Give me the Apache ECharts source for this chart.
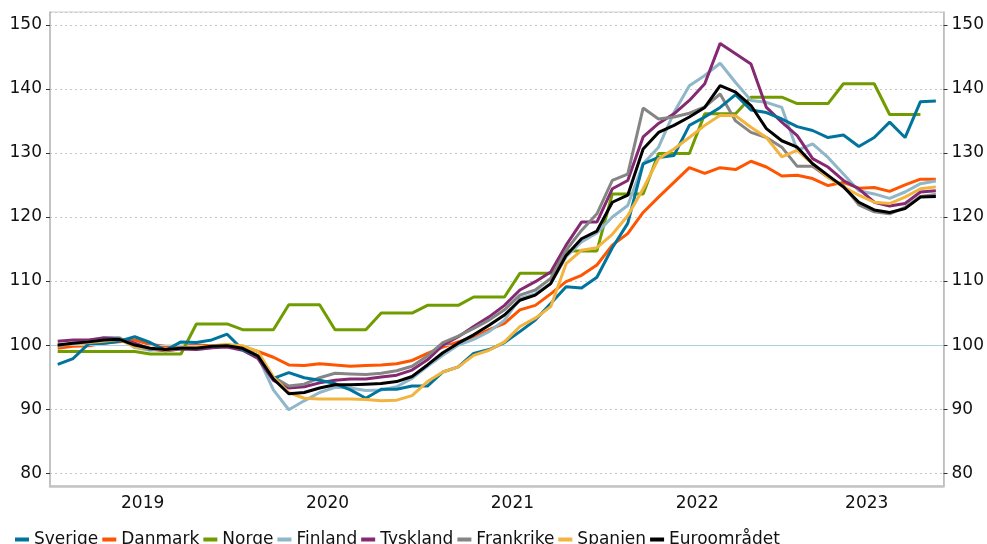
<!DOCTYPE html>
<html>
<head>
<meta charset="utf-8">
<script src="https://cdn.jsdelivr.net/npm/echarts@6/dist/echarts.min.js"></script>
<style>
  html, body { margin: 0; padding: 0; background: #fff; }
  #chart { width: 987px; height: 544px; }
</style>
</head>
<body>
<div id="chart"></div>
<script>
// månader jan 2019 - okt 2023
var years = [2019, 2020, 2021, 2022, 2023];
var months = [];
years.forEach(function (y) {
  for (var m = 1; m <= 12; m++) {
    if (y === 2023 && m > 10) break;
    months.push(y + '-' + (m < 10 ? '0' + m : m));
  }
});
// index där årsetiketten hamnar (mitt i året)
var yearLabelIdx = [6, 18, 30, 42, 53];

var sverige = [97.0, 97.9, 100.2, 100.3, 100.6, 101.3, 100.4, 99.2, 100.5, 100.4, 100.8, 101.7,
  99.3, 98.3, 94.8, 95.7, 94.9, 94.5, 94.0, 93.0, 91.7, 93.1, 93.1, 93.6,
  93.6, 95.8, 96.6, 98.7, 99.3, 100.4, 102.1, 103.9, 106.5, 109.1, 108.9, 110.6,
  115.2, 119.0, 128.3, 129.3, 129.6, 134.3, 135.6, 137.1, 139.1, 136.7, 136.3, 135.3,
  134.1, 133.5, 132.4, 132.8, 131.0, 132.4, 134.8, 132.4, 138.0, 138.1];
var danmark = [99.5, 99.8, 99.9, 100.3, 100.5, 100.8, 100.1, 99.8, 99.8, 100.0, 99.9, 100.0,
  99.7, 99.0, 98.1, 96.9, 96.8, 97.1, 96.9, 96.7, 96.8, 96.9, 97.1, 97.6,
  98.7, 99.7, 100.5, 101.3, 102.4, 103.4, 105.5, 106.2, 108.0, 109.9, 110.9, 112.5,
  115.6, 117.4, 120.7, 123.1, 125.4, 127.7, 126.8, 127.7, 127.4, 128.7, 127.8, 126.4,
  126.5, 126.0, 124.9, 125.4, 124.5, 124.6, 124.0, 125.0, 125.9, 125.9];
var norge = [99.0, 99.0, 99.0, 99.0, 99.0, 99.0, 98.6, 98.6, 98.6, 103.3, 103.3, 103.3,
  102.4, 102.4, 102.4, 106.3, 106.3, 106.3, 102.4, 102.4, 102.4, 105.0, 105.0, 105.0,
  106.2, 106.2, 106.2, 107.5, 107.5, 107.5, 111.2, 111.2, 111.2, 114.7, 114.7, 114.7,
  123.6, 123.6, 123.6, 129.9, 129.9, 129.9, 136.1, 136.1, 136.1, 138.7, 138.7, 138.7,
  137.7, 137.7, 137.7, 140.8, 140.8, 140.8, 136.0, 136.0, 136.0, null];
var finland = [99.8, 100.3, 100.7, 101.2, 101.2, 99.6, 99.2, 99.4, 99.6, 99.3, 99.6, 100.0,
  99.5, 98.2, 93.0, 89.9, 91.3, 92.6, 93.4, 93.3, 92.9, 93.0, 93.5, 94.8,
  96.7, 98.4, 100.0, 100.9, 102.1, 103.9, 107.3, 108.0, 109.6, 113.8, 116.1, 117.5,
  120.0, 121.8, 128.3, 130.9, 136.3, 140.5, 142.1, 144.0, 141.0, 138.2, 137.9, 137.1,
  130.4, 131.4, 129.3, 126.7, 124.1, 123.6, 122.9, 123.9, 125.2, 125.6];
var tyskland = [100.6, 100.8, 100.8, 101.1, 101.0, 100.3, 99.4, 99.1, 99.4, 99.3, 99.6, 99.7,
  99.2, 97.9, 94.5, 93.3, 93.5, 94.1, 94.5, 94.7, 94.7, 95.0, 95.3, 96.1,
  97.7, 100.0, 101.3, 102.9, 104.4, 106.2, 108.6, 109.9, 111.4, 115.6, 119.2, 119.2,
  124.4, 125.7, 132.5, 134.6, 136.1, 138.2, 140.8, 147.1, 145.5, 143.9, 137.1, 134.8,
  132.7, 129.1, 127.8, 125.7, 124.4, 122.3, 121.7, 122.1, 123.9, 124.1];
var frankrike = [99.9, 100.3, 100.5, 100.8, 101.0, 100.0, 99.3, 99.3, 99.6, 99.5, 99.8, 99.9,
  99.6, 98.3, 95.0, 93.6, 93.9, 94.9, 95.6, 95.5, 95.4, 95.6, 96.0, 96.7,
  98.3, 100.4, 101.4, 102.6, 103.9, 105.5, 107.8, 108.6, 110.4, 114.8, 117.9, 120.5,
  125.7, 126.7, 137.0, 135.3, 135.6, 136.2, 137.2, 139.2, 135.0, 133.2, 132.4, 130.9,
  127.9, 127.9, 126.2, 124.9, 121.9, 120.8, 120.5, 121.5, 123.2, 123.5];
var spanien = [100.0, 100.2, 100.4, 100.6, 100.9, 99.7, 99.5, 99.2, 99.5, 99.6, 99.9, 100.1,
  99.9, 99.0, 95.0, 92.6, 91.7, 91.6, 91.6, 91.6, 91.5, 91.3, 91.4, 92.1,
  94.3, 95.8, 96.6, 98.4, 99.2, 100.5, 102.9, 104.2, 106.0, 112.7, 114.8, 115.2,
  117.3, 120.2, 124.4, 129.1, 130.6, 132.4, 134.3, 135.9, 135.8, 134.0, 132.4, 129.4,
  130.4, 128.3, 126.2, 124.7, 123.4, 122.3, 122.1, 123.1, 124.4, 124.7];
var euro = [100.0, 100.3, 100.5, 100.8, 100.9, 100.0, 99.5, 99.3, 99.5, 99.5, 99.8, 99.9,
  99.5, 98.3, 94.7, 92.4, 92.6, 93.3, 93.8, 93.8, 93.9, 94.0, 94.3, 95.1,
  96.9, 98.8, 100.3, 101.6, 103.1, 104.7, 107.0, 107.8, 109.6, 114.0, 116.6, 117.8,
  122.3, 123.4, 130.6, 133.2, 134.3, 135.6, 137.1, 140.5, 139.5, 137.4, 133.8, 131.9,
  130.9, 128.3, 126.5, 124.7, 122.3, 121.1, 120.7, 121.3, 123.1, 123.2];

var names = ['Sverige', 'Danmark', 'Norge', 'Finland', 'Tyskland', 'Frankrike', 'Spanien', 'Euroområdet'];
var colors = ['#00749c', '#ff5500', '#709c00', '#8fb6c9', '#852a72', '#858585', '#f2b43e', '#000000'];
var values = [sverige, danmark, norge, finland, tyskland, frankrike, spanien, euro];

var font = 'DejaVu Sans, Verdana, sans-serif';

var series = names.map(function (n, i) {
  return {
    name: n,
    type: 'line',
    data: values[i],
    symbol: 'none',
    z: n === 'Sverige' ? 9 : 3 + i,
    lineStyle: { width: 3, color: colors[i] },
    itemStyle: { color: colors[i] }
  };
});
// 100-linjen
series.unshift({
  type: 'line',
  data: [],
  z: 1,
  silent: true,
  markLine: {
    silent: true,
    symbol: ['none', 'none'],
    label: { show: false },
    lineStyle: { color: '#a8d1e3', width: 1, type: 'solid' },
    data: [{ yAxis: 100 }]
  }
});

var chart = echarts.init(document.getElementById('chart'));
chart.setOption({
  animation: false,
  textStyle: { fontFamily: font },
  grid: {
    left: 50, right: 42, top: 12, bottom: 58,
    show: true, borderColor: '#cccccc', borderWidth: 1
  },
  legend: {
    data: names,
    left: 10,
    top: 526,
    itemGap: 4,
    itemWidth: 14,
    itemHeight: 4,
    icon: 'rect',
    textStyle: { fontSize: 17, color: '#111', fontFamily: font }
  },
  xAxis: {
    type: 'category',
    data: months,
    boundaryGap: true,
    axisLine: { lineStyle: { color: '#c4c4c4', width: 2.5 } },
    axisTick: {
      interval: function (i) { return i % 12 === 0; },
      length: 5,
      lineStyle: { color: '#333' }
    },
    axisLabel: {
      interval: function (i) { return yearLabelIdx.indexOf(i) >= 0; },
      formatter: function (v) { return v.slice(0, 4); },
      fontSize: 17,
      color: '#111',
      margin: 9,
      padding: [0, 15, 0, 0]
    },
    splitLine: { show: false }
  },
  yAxis: [
    {
      type: 'value',
      min: 78, max: 152, splitNumber: 7,
      axisLine: { show: true, lineStyle: { color: '#b8b8b8', width: 1.5 } },
      axisTick: { show: true, length: 4, lineStyle: { color: '#333' } },
      axisLabel: { fontSize: 17, color: '#111', margin: 8, showMinLabel: false, showMaxLabel: false },
      splitLine: { show: true, lineStyle: { color: '#c8c8c8', type: [2, 3], width: 1 } }
    },
    {
      type: 'value',
      position: 'right',
      min: 78, max: 152, splitNumber: 7,
      axisLine: { show: true, lineStyle: { color: '#b8b8b8', width: 1.5 } },
      axisTick: { show: true, length: 4, lineStyle: { color: '#333' } },
      axisLabel: { fontSize: 17, color: '#111', margin: 8, showMinLabel: false, showMaxLabel: false },
      splitLine: { show: false }
    }
  ],
  series: series
});
</script>
</body>
</html>
